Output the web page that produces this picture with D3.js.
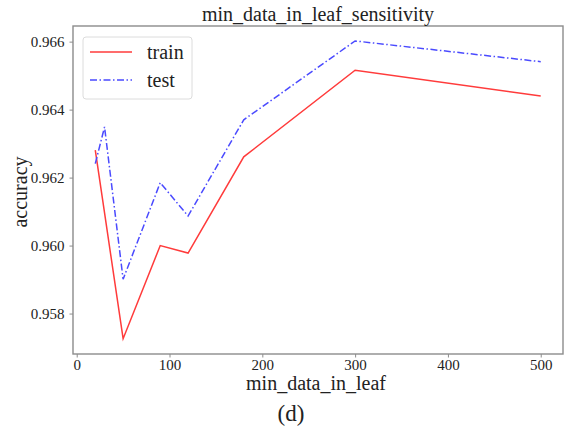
<!DOCTYPE html>
<html>
<head>
<meta charset="utf-8">
<script src="https://cdn.jsdelivr.net/npm/d3@7"></script>
<style>
  body { margin: 0; background: #fff; }
  text { font-family: "Liberation Serif", "Times New Roman", serif; fill: #222; }
</style>
</head>
<body>
<svg width="565" height="428"></svg>
<script>
// values
var leafSizes = [20, 30, 50, 90, 120, 180, 300, 500];
var trainAcc = [0.96281, 0.96096, 0.95726, 0.96000, 0.95978, 0.96261, 0.96516, 0.96440];
var testAcc = [0.96241, 0.96349, 0.95901, 0.96185, 0.96087, 0.96370, 0.96602, 0.96541];
var xTicks = [0, 100, 200, 300, 400, 500];
var yTicks = [0.958, 0.960, 0.962, 0.964, 0.966];

var svg = d3.select('svg');

var plotLeft = 73, plotRight = 563, plotTop = 26, plotBottom = 354;

var scaleX = d3.scaleLinear().domain([-4, 524]).range([plotLeft, plotRight]);
var scaleY = d3.scaleLinear().domain([0.95681, 0.96646]).range([plotBottom, plotTop]);

// frame
svg.append('rect')
  .attr('x', plotLeft).attr('y', plotTop)
  .attr('width', plotRight - plotLeft).attr('height', plotBottom - plotTop)
  .attr('fill', 'none')
  .attr('stroke', '#8c8c8c')
  .attr('stroke-width', 1.4);

var xAxis = svg.append('g')
  .attr('transform', 'translate(0,' + plotBottom + ')')
  .call(d3.axisBottom(scaleX).tickValues(xTicks).tickSize(3.5).tickPadding(2).tickFormat(d3.format('d')));

var yAxis = svg.append('g')
  .attr('transform', 'translate(' + plotLeft + ',0)')
  .call(d3.axisLeft(scaleY).tickValues(yTicks).tickSize(3.5).tickPadding(5).tickFormat(d3.format('.3f')));

[xAxis, yAxis].forEach(function(a){
  a.attr('font-family', '"Liberation Serif", serif').attr('font-size', 15);
  a.select('.domain').remove();
  a.selectAll('line').attr('stroke', '#8c8c8c').attr('stroke-width', 1);
  a.selectAll('text').attr('fill', '#222');
});

var line = d3.line()
  .x(function(d){ return scaleX(d[0]); })
  .y(function(d){ return scaleY(d[1]); });

svg.append('path')
  .datum(d3.zip(leafSizes, trainAcc))
  .attr('d', line)
  .attr('fill', 'none')
  .attr('stroke', '#ff3b3b')
  .attr('stroke-width', 1.5);

svg.append('path')
  .datum(d3.zip(leafSizes, testAcc))
  .attr('d', line)
  .attr('fill', 'none')
  .attr('stroke', '#4a4aff')
  .attr('stroke-width', 1.5)
  .attr('stroke-dasharray', '7,2.5,1.5,2.5');

// legend
var legend = svg.append('g');
legend.append('rect')
  .attr('x', 83).attr('y', 37)
  .attr('width', 109).attr('height', 62)
  .attr('rx', 3)
  .attr('fill', '#fff')
  .attr('stroke', '#dcdcdc');

var legendItems = [
  {name: 'train', color: '#ff3b3b', dash: null},
  {name: 'test', color: '#4a4aff', dash: '7,2.5,1.5,2.5'}
];
legendItems.forEach(function(d, i){
  var y = 52 + i * 28;
  legend.append('line')
    .attr('x1', 90).attr('x2', 132)
    .attr('y1', y).attr('y2', y)
    .attr('stroke', d.color)
    .attr('stroke-width', 1.5)
    .attr('stroke-dasharray', d.dash);
  legend.append('text')
    .attr('x', 147).attr('y', y + 7)
    .style('font-size', '20px')
    .text(d.name);
});

svg.append('text')
  .attr('x', (plotLeft + plotRight) / 2).attr('y', 21)
  .attr('text-anchor', 'middle')
  .style('font-size', '20px')
  .text('min_data_in_leaf_sensitivity');

svg.append('text')
  .attr('x', (plotLeft + plotRight) / 2 - 2).attr('y', 390)
  .attr('text-anchor', 'middle')
  .style('font-size', '20px')
  .text('min_data_in_leaf');

svg.append('text')
  .attr('transform', 'translate(27,192) rotate(-90)')
  .attr('text-anchor', 'middle')
  .style('font-size', '20px')
  .text('accuracy');

svg.append('text')
  .attr('x', 291).attr('y', 421)
  .attr('text-anchor', 'middle')
  .style('font-size', '23px')
  .text('(d)');
</script>
</body>
</html>
